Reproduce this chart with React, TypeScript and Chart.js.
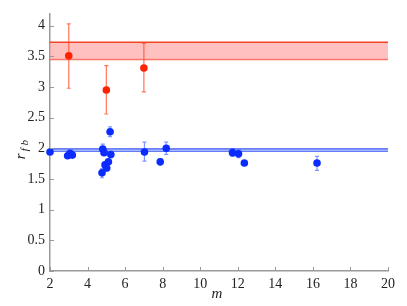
import React, { useEffect, useRef } from "react";
import { Chart, registerables } from "chart.js";

Chart.register(...registerables);

// Red group (m, r_fb, error low, error high)
const redM = [3.0, 5.0, 7.0];
const redR = [3.51, 2.95, 3.31];
const redLo = [2.98, 2.56, 2.92];
const redHi = [4.03, 3.35, 3.71];

// Blue group
const blueM = [2.0, 2.94, 3.07, 3.19, 4.77, 4.81, 4.88, 4.93, 5.02, 5.11, 5.2, 5.24, 7.03, 7.87, 8.19, 11.72, 12.04, 12.35, 16.22];
const blueR = [1.94, 1.88, 1.92, 1.89, 1.6, 1.99, 1.93, 1.73, 1.68, 1.78, 2.27, 1.9, 1.94, 1.78, 2.0, 1.93, 1.91, 1.76, 1.76];
const blueLo = [1.92, 1.85, 1.88, 1.86, 1.52, 1.91, 1.89, 1.69, 1.63, 1.74, 2.19, 1.85, 1.79, 1.73, 1.9, 1.87, 1.85, 1.72, 1.64];
const blueHi = [1.96, 1.91, 1.96, 1.92, 1.67, 2.07, 1.97, 1.77, 1.73, 1.82, 2.35, 1.95, 2.1, 1.83, 2.1, 1.99, 1.97, 1.8, 1.87];

// Bands (lower, upper)
const redBand = [3.45, 3.73];
const blueBand = [1.95, 1.99];

const xRange = [2, 20];
const yRange = [0, 4.2];
const xTicks = [2, 4, 6, 8, 10, 12, 14, 16, 18, 20];
const yTicks = [0, 0.5, 1, 1.5, 2, 2.5, 3, 3.5, 4];

const SERIF = '"Liberation Serif", "Times New Roman", serif';

export default function App() {
  const ref = useRef<HTMLCanvasElement>(null);
  useEffect(() => {
    const canvas = ref.current!;
    const errLo: Record<number, number[]> = { 4: redLo, 5: blueLo };
    const errHi: Record<number, number[]> = { 4: redHi, 5: blueHi };
    const errColor: Record<number, string> = { 4: "rgba(255,70,40,0.75)", 5: "rgba(40,80,255,0.6)" };
    const errX: Record<number, number[]> = { 4: redM, 5: blueM };

    const errPlugin = {
      id: "errbars",
      beforeDatasetDraw(chart: any, args: any) {
        const i = args.index;
        if (!(i in errLo)) return;
        const ctx = chart.ctx;
        const xs = chart.scales.x, ys = chart.scales.y;
        ctx.save();
        ctx.strokeStyle = errColor[i];
        ctx.lineWidth = 1.2;
        errX[i].forEach((m, k) => {
          const px = xs.getPixelForValue(m);
          const y1 = ys.getPixelForValue(errLo[i][k]);
          const y2 = ys.getPixelForValue(errHi[i][k]);
          ctx.beginPath();
          ctx.moveTo(px, y1); ctx.lineTo(px, y2);
          ctx.moveTo(px - 2, y1); ctx.lineTo(px + 2, y1);
          ctx.moveTo(px - 2, y2); ctx.lineTo(px + 2, y2);
          ctx.stroke();
        });
        ctx.restore();
      },
    };

    const axisPlugin = {
      id: "axisdeco",
      afterDraw(chart: any) {
        const ctx = chart.ctx;
        const xs = chart.scales.x, ys = chart.scales.y;
        const a = chart.chartArea;
        ctx.save();
        ctx.strokeStyle = "#999";
        ctx.lineWidth = 1;
        xTicks.forEach((t) => {
          const p = Math.round(xs.getPixelForValue(t)) + 0.5;
          ctx.beginPath(); ctx.moveTo(p, a.bottom); ctx.lineTo(p, a.bottom - 4); ctx.stroke();
        });
        yTicks.forEach((t) => {
          const p = Math.round(ys.getPixelForValue(t)) + 0.5;
          ctx.beginPath(); ctx.moveTo(a.left, p); ctx.lineTo(a.left + 4, p); ctx.stroke();
        });
        // axis titles
        ctx.fillStyle = "#222";
        ctx.font = `italic 15px ${SERIF}`;
        ctx.textAlign = "center";
        ctx.textBaseline = "alphabetic";
        ctx.fillText("m", (a.left + a.right) / 2 - 2, 298);
        ctx.translate(25, (a.top + a.bottom) / 2 + 4);
        ctx.rotate(-Math.PI / 2);
        ctx.textAlign = "left";
        ctx.font = `italic 15px ${SERIF}`;
        ctx.fillText("r", -13, 0);
        ctx.font = `italic 11px ${SERIF}`;
        ctx.fillText("f b", -5, 3);
        ctx.restore();
      },
    };

    const line = (v: number) => [{ x: xRange[0], y: v }, { x: xRange[1], y: v }];

    const chart = new Chart(canvas, {
      type: "scatter",
      data: {
        datasets: [
          { type: "line", order: 5, data: line(redBand[0]), borderColor: "rgba(245,80,50,0.85)", borderWidth: 1.5, pointRadius: 0, fill: false },
          { type: "line", order: 4, data: line(redBand[1]), borderColor: "rgba(240,60,30,0.95)", borderWidth: 1.5, pointRadius: 0, fill: "-1", backgroundColor: "rgba(255,150,150,0.6)" },
          { type: "line", order: 3, data: line(blueBand[0]), borderColor: "rgba(50,80,240,0.8)", borderWidth: 1.3, pointRadius: 0, fill: false },
          { type: "line", order: 2, data: line(blueBand[1]), borderColor: "rgba(40,70,240,0.9)", borderWidth: 1.3, pointRadius: 0, fill: "-1", backgroundColor: "rgba(120,150,255,0.5)" },
          { order: 1, data: redM.map((m, k) => ({ x: m, y: redR[k] })), backgroundColor: "#ff2200", borderColor: "#ff2200", pointRadius: 3.8, borderWidth: 0, clip: false } as any,
          { order: 0, data: blueM.map((m, k) => ({ x: m, y: blueR[k] })), backgroundColor: "#0a2cff", borderColor: "#0a2cff", pointRadius: 3.8, borderWidth: 0, clip: false } as any,
        ],
      },
      options: {
        animation: false,
        responsive: false,
        maintainAspectRatio: false,
        layout: { padding: { top: 10, right: 19, left: 0, bottom: 0 } },
        plugins: { legend: { display: false }, tooltip: { enabled: false } },
        scales: {
          x: {
            type: "linear",
            min: xRange[0],
            max: xRange[1],
            afterFit: (s: any) => { s.height = 35; },
            afterBuildTicks: (s: any) => { s.ticks = xTicks.map((v) => ({ value: v })); },
            grid: { display: true, drawOnChartArea: false, drawTicks: false },
            border: { display: true, color: "#999", width: 1.5 },
            ticks: { padding: 5, color: "#222", font: { family: SERIF, size: 14 }, callback: (v: any) => String(v) },
          },
          y: {
            type: "linear",
            min: yRange[0],
            max: yRange[1],
            afterFit: (s: any) => { s.width = 50; },
            afterBuildTicks: (s: any) => { s.ticks = yTicks.map((v) => ({ value: v })); },
            grid: { display: true, drawOnChartArea: false, drawTicks: false },
            border: { display: true, color: "#999", width: 1.5 },
            ticks: { padding: 5, color: "#222", font: { family: SERIF, size: 14 }, callback: (v: any) => String(v) },
          },
        },
      },
      plugins: [errPlugin, axisPlugin],
    } as any);
    return () => chart.destroy();
  }, []);
  return (
    <div style={{ position: "fixed", left: 0, top: 0, width: 407, height: 306, background: "#fff" }}>
      <canvas ref={ref} width={407} height={306} style={{ width: 407, height: 306 }} />
    </div>
  );
}
